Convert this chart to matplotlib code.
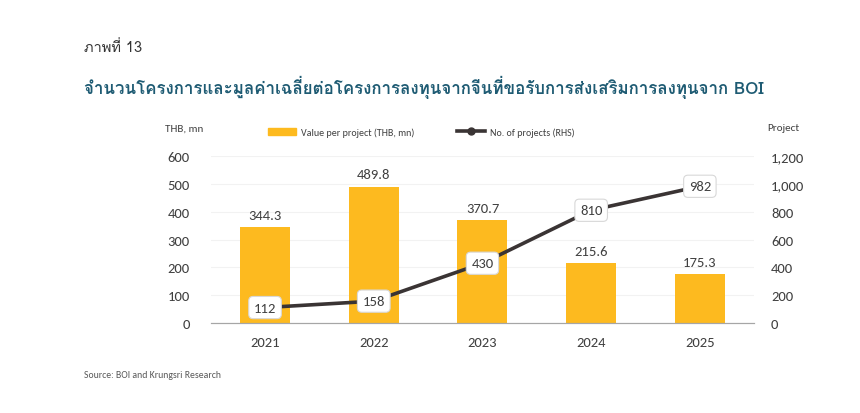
import matplotlib
matplotlib.use("Agg")
import matplotlib.pyplot as plt
import numpy as np
from matplotlib.lines import Line2D
from matplotlib.patches import Patch

years = ["2021", "2022", "2023", "2024", "2025"]
value_per_project = [344.3, 489.8, 370.7, 215.6, 175.3]
num_projects = [112, 158, 430, 810, 982]

fig_label = "ภาพที่ 13"
title = "จำนวนโครงการและมูลค่าเฉลี่ยต่อโครงการลงทุนจากจีนที่ขอรับการส่งเสริมการลงทุนจาก BOI"
source = "Source: BOI and Krungsri Research"

bar_color = "#FDBA1F"
line_color = "#3A3434"
text_color = "#404040"
thai = ["Loma", "DejaVu Sans"]
latin = ["Carlito", "Lato", "DejaVu Sans"]


def thai_fix(s):
    # no shaping in matplotlib: use the low tone-mark glyphs (Windows PUA)
    # when there is no upper vowel under the tone mark
    upper = {"\u0e31", "\u0e34", "\u0e35", "\u0e36", "\u0e37", "\u0e47"}
    out = []
    for i, ch in enumerate(s):
        if "\u0e48" <= ch <= "\u0e4c" and (i == 0 or s[i - 1] not in upper):
            out.append(chr(0xF70A + ord(ch) - 0x0E48))
        else:
            out.append(ch)
    return "".join(out)


fig = plt.figure(figsize=(8.6, 4.14), dpi=100)
ax = fig.add_axes([0.245, 0.217, 0.632, 0.404])
ax2 = ax.twinx()

x = np.arange(len(years))
ax.bar(x, value_per_project, width=0.46, color=bar_color, zorder=2)
for xi, v in zip(x, value_per_project):
    ax.text(xi, v + 22, f"{v:.1f}", ha="center", va="bottom", fontsize=10.5,
            color=text_color, family=latin)

ax2.plot(x, num_projects, color=line_color, lw=2.6, zorder=3)
for xi, n in zip(x, num_projects):
    ax2.text(xi, n, f"{n}", ha="center", va="center", fontsize=10.5, color=text_color,
             family=latin, zorder=4,
             bbox=dict(boxstyle="round,pad=0.35,rounding_size=0.3", fc="white",
                       ec="#d8d8d8", lw=0.8))

ax.set_xlim(-0.5, len(years) - 0.5)
ax.set_ylim(0, 600)
ax.set_yticks(range(0, 601, 100))
ax2.set_ylim(0, 1200)
ax2.set_yticks(range(0, 1201, 200))
ax2.set_yticklabels([f"{t:,}" for t in range(0, 1201, 200)])
ax.set_xticks(x)
ax.set_xticklabels(years)

ax.grid(axis="y", color="#f2f2f2", lw=0.8, zorder=0)
ax.set_axisbelow(True)
for a in (ax, ax2):
    for s in ("top", "right", "left"):
        a.spines[s].set_visible(False)
    a.spines["bottom"].set_color("#a6a6a6")
    a.tick_params(length=0, labelsize=10.5, labelcolor=text_color)
    for lab in a.get_xticklabels() + a.get_yticklabels():
        lab.set_family(latin)
ax.tick_params(axis="y", pad=15)
ax.tick_params(axis="x", pad=9)
ax2.tick_params(axis="y", pad=12)
ax2.set_zorder(ax.get_zorder() + 1)
ax2.patch.set_visible(False)

fig.text(0.192, 0.683, "THB, mn", fontsize=8, color=text_color, family=latin, ha="left")
fig.text(0.892, 0.683, "Project", fontsize=8, color=text_color, family=latin, ha="left")

handles = [Patch(color=bar_color),
           Line2D([], [], color=line_color, lw=2.6, marker="o", markersize=5)]
fig.legend(handles, ["Value per project (THB, mn)", "No. of projects (RHS)"],
           loc="center", bbox_to_anchor=(0.49, 0.679), ncol=2, frameon=False,
           prop={"family": latin, "size": 7.2}, labelcolor=text_color,
           handlelength=2.8, handleheight=0.7, columnspacing=4.3, handletextpad=0.45)

fig.text(0.098, 0.886, thai_fix(fig_label), fontsize=10.5, color="#333333", family=thai,
         va="center")
fig.text(0.098, 0.79, thai_fix(title), fontsize=12.2, color="#1E5B73", family=thai,
         va="center", fontweight="bold")
fig.text(0.098, 0.093, source, fontsize=7, color="#595959", family=latin, va="center")

fig.savefig("out.png", dpi=100)
